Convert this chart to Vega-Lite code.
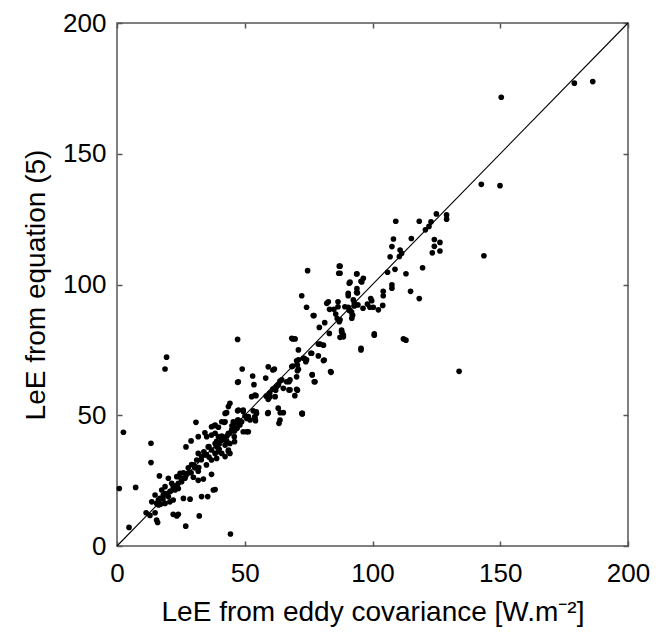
{
  "$schema": "https://vega.github.io/schema/vega-lite/v6.json",
  "width": 511,
  "height": 523,
  "autosize": "none",
  "padding": {"left": 117, "top": 23, "right": 38, "bottom": 86},
  "background": "white",
  "config": {
    "view": {"stroke": "#555555", "strokeWidth": 1.5},
    "axis": {
      "domain": false,
      "grid": false,
      "tickColor": "#555555",
      "tickWidth": 1.5,
      "tickSize": -5,
      "labelFont": "Liberation Sans, Arial, sans-serif",
      "labelFontSize": 26,
      "labelColor": "#000000",
      "titleFont": "Liberation Sans, Arial, sans-serif",
      "titleFontSize": 28,
      "titleFontWeight": "normal",
      "titleColor": "#000000"
    }
  },
  "datasets": {
    "pts": [
      {"ec":2.5,"eq":43.5},{"ec":0.9,"eq":22},{"ec":7.3,"eq":22.4},{"ec":4.7,"eq":7.1},{"ec":13.3,"eq":39.3},
      {"ec":13.3,"eq":31.9},{"ec":18.8,"eq":67.7},{"ec":19.4,"eq":72.2},{"ec":16.6,"eq":26.8},{"ec":11.4,"eq":12.7},
      {"ec":12.9,"eq":11.7},{"ec":14.9,"eq":12.7},{"ec":15.5,"eq":9.9},{"ec":15.9,"eq":9.0},{"ec":22,"eq":12.1},
      {"ec":23.4,"eq":11.5},{"ec":24,"eq":12.1},{"ec":26.9,"eq":7.6},{"ec":32.2,"eq":11.5},{"ec":44.4,"eq":4.6},
      {"ec":30.9,"eq":47.3},{"ec":47.2,"eq":79},{"ec":37.7,"eq":21.4},{"ec":33.1,"eq":18.9},{"ec":35.5,"eq":18.9},
      {"ec":28.6,"eq":17.9},{"ec":26,"eq":18.2},{"ec":20.1,"eq":25.9},{"ec":21.4,"eq":24},{"ec":22,"eq":22.7},
      {"ec":22.7,"eq":21.4},{"ec":20.7,"eq":20.8},{"ec":18.8,"eq":22.7},{"ec":17.5,"eq":21.4},{"ec":18.1,"eq":19.5},
      {"ec":16.8,"eq":18.2},{"ec":16.2,"eq":17.6},{"ec":14.9,"eq":19.5},{"ec":13.6,"eq":16.9},{"ec":15.5,"eq":16.3},
      {"ec":20.1,"eq":18.9},{"ec":22,"eq":17.6},{"ec":18.8,"eq":16.3},{"ec":20.7,"eq":16.9},{"ec":16.3,"eq":15.7},
      {"ec":23.4,"eq":26.5},{"ec":24.7,"eq":27.8},{"ec":25.3,"eq":24.6},{"ec":24,"eq":24},{"ec":26.6,"eq":25.9},
      {"ec":27.9,"eq":29.9},{"ec":29.2,"eq":31.1},{"ec":30.5,"eq":29.9},{"ec":31.8,"eq":28.6},{"ec":29.9,"eq":26.3},
      {"ec":31.8,"eq":25.1},{"ec":33.8,"eq":25.6},{"ec":37,"eq":27.4},{"ec":27,"eq":37.9},{"ec":29,"eq":40.2},
      {"ec":31.8,"eq":41.8},{"ec":34.4,"eq":43.3},{"ec":35.1,"eq":41.8},{"ec":37,"eq":42.4},{"ec":38.4,"eq":43.1},
      {"ec":39.7,"eq":41.8},{"ec":43.6,"eq":43.1},{"ec":44.9,"eq":44.4},{"ec":46.2,"eq":45.6},{"ec":48.1,"eq":46.3},
      {"ec":48.8,"eq":47.5},{"ec":31.8,"eq":35.4},{"ec":33.1,"eq":34.2},{"ec":34.4,"eq":34.8},{"ec":31.2,"eq":32.9},
      {"ec":37,"eq":32.9},{"ec":38.4,"eq":35.4},{"ec":41,"eq":35.4},{"ec":42.3,"eq":34.2},{"ec":43.6,"eq":36.1},
      {"ec":44.2,"eq":35.4},{"ec":38.4,"eq":39.2},{"ec":41,"eq":40.4},{"ec":42.3,"eq":38.6},{"ec":44.2,"eq":39.2},
      {"ec":35.7,"eq":37.9},{"ec":37,"eq":36.7},{"ec":38,"eq":46},{"ec":37,"eq":45.6},{"ec":42,"eq":47.3},
      {"ec":42.3,"eq":47.5},{"ec":44.2,"eq":54.6},{"ec":42.9,"eq":51},{"ec":43.6,"eq":53.3},{"ec":42.3,"eq":50.7},
      {"ec":47.2,"eq":51.7},{"ec":49.4,"eq":51.4},{"ec":53.3,"eq":51.7},{"ec":54.6,"eq":50.7},{"ec":54,"eq":48.8},
      {"ec":54.2,"eq":47.9},{"ec":51.4,"eq":49.5},{"ec":52.1,"eq":48.2},{"ec":59,"eq":50.7},{"ec":65.1,"eq":51},
      {"ec":63.8,"eq":48.2},{"ec":63.4,"eq":46.9},{"ec":72.5,"eq":50.7},{"ec":50.1,"eq":49.7},{"ec":50.8,"eq":48.8},
      {"ec":47.2,"eq":48.2},{"ec":47.8,"eq":46.9},{"ec":41,"eq":47.5},{"ec":45.5,"eq":47.5},{"ec":38.4,"eq":46.2},
      {"ec":39.7,"eq":45.4},{"ec":49.4,"eq":43.7},{"ec":51.4,"eq":43.7},{"ec":46,"eq":39.9},{"ec":45.9,"eq":41.8},
      {"ec":43.6,"eq":36.7},{"ec":39.7,"eq":36.1},{"ec":39,"eq":33.5},{"ec":38.4,"eq":21.6},{"ec":47.5,"eq":62.8},
      {"ec":49,"eq":67.7},{"ec":53.1,"eq":65},{"ec":53.6,"eq":61.7},{"ec":58.2,"eq":64.2},{"ec":59.2,"eq":68.5},
      {"ec":61.6,"eq":67.7},{"ec":68.8,"eq":79.2},{"ec":69.7,"eq":79.2},{"ec":72.3,"eq":95.7},{"ec":74.6,"eq":105.3},
      {"ec":74.2,"eq":91.3},{"ec":77.1,"eq":88.1},{"ec":79.2,"eq":83.6},{"ec":82.1,"eq":92.8},{"ec":82.7,"eq":93.4},
      {"ec":87,"eq":107},{"ec":86.8,"eq":104.3},{"ec":90.9,"eq":100.5},{"ec":93.8,"eq":104},{"ec":95.8,"eq":101},
      {"ec":90.5,"eq":95.7},{"ec":93.8,"eq":96.9},{"ec":87,"eq":85.8},{"ec":87.9,"eq":82},{"ec":88.6,"eq":80},
      {"ec":87.3,"eq":79.8},{"ec":95.5,"eq":75.6},{"ec":91.2,"eq":90.2},{"ec":92.1,"eq":88.3},{"ec":91.9,"eq":87.1},
      {"ec":76.4,"eq":65.4},{"ec":77.5,"eq":62.8},{"ec":83.6,"eq":66.7},{"ec":81.1,"eq":71.1},{"ec":78.8,"eq":72.7},
      {"ec":79.5,"eq":77.2},{"ec":75.9,"eq":73.7},{"ec":73.3,"eq":71.8},{"ec":74.2,"eq":71.2},{"ec":71,"eq":75},
      {"ec":71,"eq":71.2},{"ec":71,"eq":67.6},{"ec":70.3,"eq":64.7},{"ec":68.8,"eq":68.8},{"ec":67.3,"eq":62.8},
      {"ec":67.7,"eq":59.7},{"ec":70.3,"eq":59.9},{"ec":69.6,"eq":57.5},{"ec":64.5,"eq":63.5},{"ec":62.4,"eq":60.9},
      {"ec":61,"eq":60},{"ec":59.8,"eq":58.5},{"ec":58.4,"eq":57.3},{"ec":63.1,"eq":52.7},{"ec":63.9,"eq":51},
      {"ec":59.2,"eq":51},{"ec":54.5,"eq":51.3},{"ec":53.9,"eq":49.4},{"ec":54.4,"eq":57.5},{"ec":52.7,"eq":57.1},
      {"ec":54,"eq":57.7},{"ec":72.4,"eq":50.7},{"ec":49.4,"eq":52},{"ec":50.7,"eq":43.7},{"ec":47.5,"eq":52},
      {"ec":47.5,"eq":48.2},{"ec":63.8,"eq":63.1},{"ec":66.4,"eq":62.8},{"ec":63.2,"eq":61.6},{"ec":65.1,"eq":60.3},
      {"ec":67.3,"eq":59.7},{"ec":61,"eq":67.3},{"ec":62.1,"eq":59.6},{"ec":59.9,"eq":57.1},{"ec":61.9,"eq":57.1},
      {"ec":59.2,"eq":56.1},{"ec":47.2,"eq":62.6},{"ec":76.4,"eq":65.6},{"ec":77.2,"eq":62.8},{"ec":83.8,"eq":66.4},
      {"ec":76.8,"eq":88.1},{"ec":86.5,"eq":93.4},{"ec":86.5,"eq":91.5},{"ec":83.2,"eq":90.5},{"ec":84.9,"eq":90.5},
      {"ec":85.6,"eq":88.7},{"ec":86.2,"eq":87},{"ec":92.9,"eq":91.8},{"ec":94.3,"eq":92.2},{"ec":96.3,"eq":90.9},
      {"ec":98,"eq":92.5},{"ec":81.3,"eq":85.4},{"ec":83.1,"eq":81.3},{"ec":88,"eq":81.7},{"ec":100.7,"eq":81.1},
      {"ec":112.1,"eq":79.2},{"ec":68.4,"eq":79.4},{"ec":78.8,"eq":77.2},{"ec":80.8,"eq":76.8},{"ec":76.2,"eq":73.7},
      {"ec":72.9,"eq":71.8},{"ec":73.9,"eq":70.5},{"ec":80.8,"eq":70.9},{"ec":70.3,"eq":70.8},{"ec":70.6,"eq":69.2},
      {"ec":68.4,"eq":68.6},{"ec":70.6,"eq":67},{"ec":67.7,"eq":63.5},{"ec":70.6,"eq":59.6},{"ec":72.5,"eq":50.5},
      {"ec":179,"eq":177},{"ec":186.2,"eq":177.6},{"ec":150.4,"eq":171.6},{"ec":142.6,"eq":138.3},{"ec":149.9,"eq":137.8},
      {"ec":143.6,"eq":111},{"ec":133.9,"eq":66.8},{"ec":109.1,"eq":124.2},{"ec":118.3,"eq":124.2},{"ec":125,"eq":127},
      {"ec":122.9,"eq":124},{"ec":120.7,"eq":120.9},{"ec":122.1,"eq":122.2},{"ec":129,"eq":126.6},{"ec":129,"eq":125},
      {"ec":108.2,"eq":117.4},{"ec":107.6,"eq":114.5},{"ec":115.2,"eq":117.6},{"ec":110.8,"eq":113.2},{"ec":111.4,"eq":111.9},
      {"ec":110.5,"eq":110.7},{"ec":106.9,"eq":110.6},{"ec":124.2,"eq":117.2},{"ec":126.4,"eq":116.1},{"ec":124.2,"eq":114.6},
      {"ec":123.4,"eq":112.1},{"ec":126.4,"eq":112.8},{"ec":108.8,"eq":105.8},{"ec":119.6,"eq":106.4},{"ec":105.9,"eq":104.7},
      {"ec":113.1,"eq":104.1},{"ec":107.6,"eq":99.9},{"ec":107.6,"eq":98.6},{"ec":104.2,"eq":97.4},{"ec":104.2,"eq":95.7},
      {"ec":114.9,"eq":97.4},{"ec":118.3,"eq":94.6},{"ec":104,"eq":92},{"ec":99.3,"eq":94.6},{"ec":99.7,"eq":93.8},
      {"ec":99,"eq":91.3},{"ec":100.3,"eq":91.3},{"ec":102.3,"eq":90.3},{"ec":100.7,"eq":80.6},{"ec":113.1,"eq":78.7},
      {"ec":95.5,"eq":75},{"ec":93.9,"eq":104.1},{"ec":95.5,"eq":101.2},{"ec":96.4,"eq":102.4},{"ec":91.2,"eq":100.9},
      {"ec":93.9,"eq":98.4},{"ec":94.1,"eq":96.8},{"ec":90.5,"eq":96.6},{"ec":92.5,"eq":94.1},{"ec":92.9,"eq":92.8},
      {"ec":89.2,"eq":91.5},{"ec":90.5,"eq":91.3},{"ec":90.9,"eq":90.1},{"ec":91.8,"eq":89.5},{"ec":92.2,"eq":88.2},
      {"ec":87.3,"eq":107},{"ec":87.3,"eq":104.3},{"ec":87.3,"eq":86.5},{"ec":87.9,"eq":82.6},{"ec":88.6,"eq":80.7},
      {"ec":33,"eq":33},{"ec":35,"eq":35},{"ec":36,"eq":34},{"ec":39,"eq":38},{"ec":40,"eq":39},
      {"ec":41,"eq":42},{"ec":42,"eq":41},{"ec":43,"eq":42},{"ec":44,"eq":43},{"ec":45,"eq":44},
      {"ec":46,"eq":44},{"ec":36,"eq":38},{"ec":34,"eq":36},{"ec":40,"eq":37},{"ec":45,"eq":46},
      {"ec":47,"eq":45},{"ec":46,"eq":47},{"ec":30,"eq":31},{"ec":28,"eq":28},{"ec":27,"eq":27},
      {"ec":26,"eq":28},{"ec":25,"eq":26},{"ec":23,"eq":23},{"ec":21,"eq":21},{"ec":19,"eq":20},
      {"ec":18,"eq":18},{"ec":17,"eq":16},{"ec":24,"eq":22},{"ec":29,"eq":28},{"ec":32,"eq":30},
      {"ec":35,"eq":31},{"ec":39,"eq":40},{"ec":43,"eq":40}
    ],
    "diag": [{"ec":0,"eq":0},{"ec":200,"eq":200}]
  },
  "layer": [
    {
      "data": {"name": "pts"},
      "mark": {"type": "point", "filled": true, "shape": "circle", "size": 32, "color": "#000000", "opacity": 1, "strokeWidth": 0},
      "encoding": {
        "x": {"field": "ec", "type": "quantitative",
              "scale": {"domain": [0, 200], "nice": false},
              "axis": {"orient": "bottom", "values": [0, 50, 100, 150, 200], "title": "LeE from eddy covariance [W.m⁻²]", "labelPadding": 19, "titlePadding": 12, "labelFlush": false}},
        "y": {"field": "eq", "type": "quantitative",
              "scale": {"domain": [0, 200], "nice": false},
              "axis": {"orient": "left", "values": [0, 50, 100, 150, 200], "title": "LeE from equation (5)", "labelPadding": 16, "titlePadding": 12, "labelFlush": false}}
      }
    },
    {
      "data": {"name": "diag"},
      "mark": {"type": "line", "color": "#000000", "strokeWidth": 1.1},
      "encoding": {
        "x": {"field": "ec", "type": "quantitative",
              "scale": {"domain": [0, 200], "nice": false},
              "axis": {"orient": "top", "values": [0, 50, 100, 150, 200], "labels": false, "title": null}},
        "y": {"field": "eq", "type": "quantitative",
              "scale": {"domain": [0, 200], "nice": false},
              "axis": {"orient": "right", "values": [0, 50, 100, 150, 200], "labels": false, "title": null}}
      }
    }
  ],
  "resolve": {"axis": {"x": "independent", "y": "independent"}}
}
